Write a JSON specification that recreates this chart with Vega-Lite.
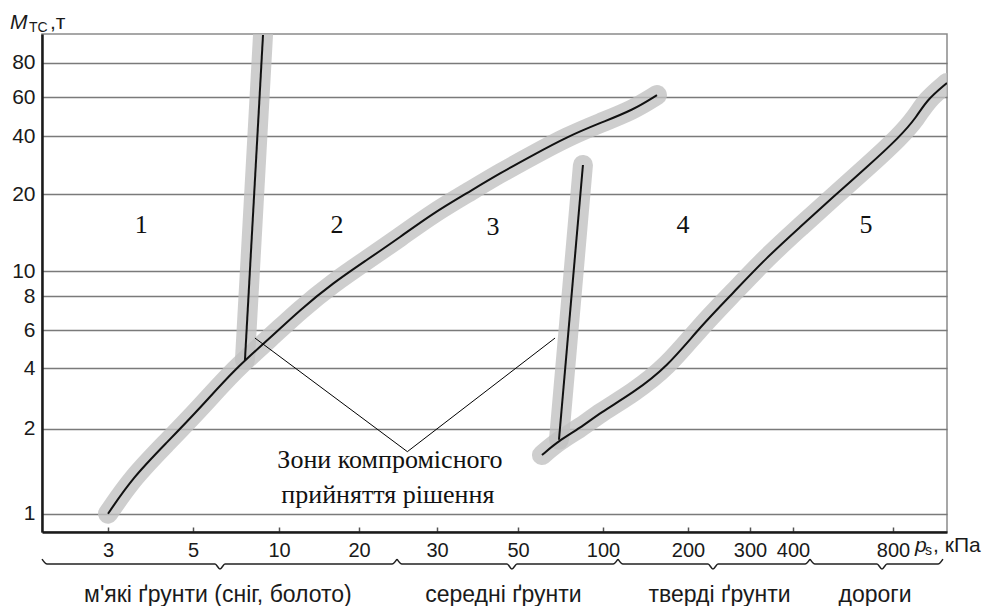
{
  "$schema": "https://vega.github.io/schema/vega-lite/v6.json",
  "width": 905,
  "height": 498,
  "autosize": {"type": "none"},
  "padding": {"left": 42, "top": 34, "right": 48, "bottom": 74},
  "background": "white",
  "config": {"view": {"stroke": "#8a8a8a", "strokeWidth": 1.5}, "font": "Liberation Sans"},
  "datasets": {
    "curves": [
      {"curve": "A", "ps": 3, "m": 1},
      {"curve": "A", "ps": 3.59, "m": 1.43},
      {"curve": "A", "ps": 4.39, "m": 1.84},
      {"curve": "A", "ps": 5.41, "m": 2.68},
      {"curve": "A", "ps": 7.44, "m": 3.97},
      {"curve": "A", "ps": 9.48, "m": 5.59},
      {"curve": "A", "ps": 12.6, "m": 7.18},
      {"curve": "A", "ps": 16.75, "m": 9.04},
      {"curve": "A", "ps": 21.0, "m": 11.43},
      {"curve": "A", "ps": 25.26, "m": 14.4},
      {"curve": "A", "ps": 29.5, "m": 17.5},
      {"curve": "A", "ps": 37.4, "m": 20.3},
      {"curve": "A", "ps": 45.6, "m": 27.2},
      {"curve": "A", "ps": 58.8, "m": 33.4},
      {"curve": "A", "ps": 78.8, "m": 39.7},
      {"curve": "A", "ps": 98.2, "m": 46.7},
      {"curve": "A", "ps": 135.3, "m": 53.4},
      {"curve": "A", "ps": 163.5, "m": 61.3},
      {"curve": "V1", "ps": 8.02, "m": 4.42},
      {"curve": "V1", "ps": 9.07, "m": 96},
      {"curve": "V2", "ps": 74.1, "m": 1.87},
      {"curve": "V2", "ps": 88.2, "m": 30.0},
      {"curve": "B", "ps": 64.1, "m": 1.69},
      {"curve": "B", "ps": 74.1, "m": 1.86},
      {"curve": "B", "ps": 86.5, "m": 2.02},
      {"curve": "B", "ps": 98.2, "m": 2.52},
      {"curve": "B", "ps": 135.3, "m": 3.18},
      {"curve": "B", "ps": 175.3, "m": 4.05},
      {"curve": "B", "ps": 219.4, "m": 6.19},
      {"curve": "B", "ps": 272.6, "m": 8.24},
      {"curve": "B", "ps": 339.5, "m": 11.8},
      {"curve": "B", "ps": 428, "m": 15.7},
      {"curve": "B", "ps": 560, "m": 19.6},
      {"curve": "B", "ps": 696, "m": 29.3},
      {"curve": "B", "ps": 806, "m": 39.7},
      {"curve": "B", "ps": 821, "m": 49.8},
      {"curve": "B", "ps": 830, "m": 58.6},
      {"curve": "B", "ps": 848, "m": 68.3}
    ],
    "leaders": [
      {"ps": 8.6, "m": 5.59},
      {"ps": 26.2, "m": 1.73},
      {"ps": 71.8, "m": 5.59}
    ],
    "braces": [
      {"brace": 1, "ps": 1.45, "m": 0.467},
      {"brace": 1, "ps": 1.57, "m": 0.409},
      {"brace": 1, "ps": 6.28, "m": 0.409},
      {"brace": 1, "ps": 6.57, "m": 0.35},
      {"brace": 1, "ps": 6.86, "m": 0.409},
      {"brace": 1, "ps": 24.23, "m": 0.409},
      {"brace": 1, "ps": 24.87, "m": 0.467},
      {"brace": 2, "ps": 24.87, "m": 0.467},
      {"brace": 2, "ps": 25.51, "m": 0.409},
      {"brace": 2, "ps": 47.3, "m": 0.409},
      {"brace": 2, "ps": 48.5, "m": 0.35},
      {"brace": 2, "ps": 49.75, "m": 0.409},
      {"brace": 2, "ps": 111.8, "m": 0.409},
      {"brace": 2, "ps": 117.6, "m": 0.467},
      {"brace": 3, "ps": 117.6, "m": 0.467},
      {"brace": 3, "ps": 123.5, "m": 0.409},
      {"brace": 3, "ps": 232.3, "m": 0.409},
      {"brace": 3, "ps": 240.3, "m": 0.35},
      {"brace": 3, "ps": 248.4, "m": 0.409},
      {"brace": 3, "ps": 448, "m": 0.409},
      {"brace": 3, "ps": 468, "m": 0.467},
      {"brace": 4, "ps": 468, "m": 0.467},
      {"brace": 4, "ps": 488, "m": 0.409},
      {"brace": 4, "ps": 736, "m": 0.409},
      {"brace": 4, "ps": 756, "m": 0.35},
      {"brace": 4, "ps": 776, "m": 0.409},
      {"brace": 4, "ps": 840, "m": 0.409},
      {"brace": 4, "ps": 844.4, "m": 0.467}
    ],
    "labels": [
      {"kind": "zone", "text": "1", "ps": 3.78, "m": 16},
      {"kind": "zone", "text": "2", "ps": 17.25, "m": 16},
      {"kind": "zone", "text": "3", "ps": 43.8, "m": 15.7},
      {"kind": "zone", "text": "4", "ps": 194, "m": 16},
      {"kind": "zone", "text": "5", "ps": 692, "m": 16},
      {"kind": "note", "text": "Зони компромісного", "ps": 23.97, "m": 1.63},
      {"kind": "note", "text": "прийняття рішення", "ps": 23.7, "m": 1.22},
      {"kind": "category", "text": "м'які ґрунти (сніг, болото)", "ps": 6.45, "m": 0.044},
      {"kind": "category", "text": "середні ґрунти", "ps": 46.4, "m": 0.044},
      {"kind": "category", "text": "тверді ґрунти", "ps": 250.8, "m": 0.044},
      {"kind": "category", "text": "дороги", "ps": 728, "m": 0.044},
      {"kind": "ital", "text": "M", "ps": 0.697, "m": 99.5},
      {"kind": "sub", "text": "ТС", "ps": 1.144, "m": 97.76},
      {"kind": "norm", "text": ",т", "ps": 1.638, "m": 99.5},
      {"kind": "ital", "text": "p", "ps": 819.6, "m": 0.55},
      {"kind": "sub", "text": "s", "ps": 828.4, "m": 0.509},
      {"kind": "norm", "text": ", кПа", "ps": 835.6, "m": 0.55}
    ]
  },
  "encoding": {
    "x": {
      "field": "ps",
      "type": "quantitative",
      "scale": {
        "type": "linear",
        "domain": [1.45, 3, 5, 10, 20, 30, 50, 100, 200, 300, 400, 800, 848],
        "range": [0, 66, 151, 237, 317, 395, 476, 561, 646, 708, 751, 851, 905],
        "zero": false,
        "nice": false
      },
      "axis": {
        "values": [3, 5, 10, 20, 30, 50, 100, 200, 300, 400, 800],
        "format": "d",
        "title": null,
        "grid": false,
        "domainColor": "#1a1a1a",
        "domainWidth": 2.5,
        "ticks": true,
        "tickSize": -5,
        "tickColor": "#555555",
        "tickWidth": 1.5,
        "labelPadding": 13,
        "labelFontSize": 20,
        "labelColor": "#1a1a1a",
        "labelFont": "Liberation Sans",
        "labelOverlap": false,
        "labelFlush": false
      }
    },
    "y": {
      "field": "m",
      "type": "quantitative",
      "scale": {
        "type": "linear",
        "domain": [0.785, 1, 2, 4, 6, 8, 10, 20, 40, 60, 80, 96.6],
        "range": [498, 479.7, 394.7, 334, 296.3, 262, 237, 160, 102, 63.3, 28.7, 0],
        "zero": false,
        "nice": false
      },
      "axis": {
        "values": [1, 2, 4, 6, 8, 10, 20, 40, 60, 80],
        "format": "d",
        "title": null,
        "grid": true,
        "gridColor": "#7a7a7a",
        "gridWidth": 1.6,
        "domainColor": "#1a1a1a",
        "domainWidth": 2.5,
        "ticks": false,
        "labelPadding": 7,
        "labelFontSize": 21,
        "labelColor": "#1a1a1a",
        "labelFont": "Liberation Sans",
        "labelOverlap": false,
        "labelFlush": false
      }
    }
  },
  "layer": [
    {
      "data": {"name": "curves"},
      "mark": {"type": "line", "color": "#c2c2c2", "opacity": 0.8, "strokeWidth": 20, "strokeCap": "round", "strokeJoin": "round", "interpolate": "basis", "clip": true},
      "encoding": {"detail": {"field": "curve"}}
    },
    {
      "data": {"name": "curves"},
      "mark": {"type": "line", "color": "#111111", "strokeWidth": 2, "interpolate": "basis", "clip": true},
      "encoding": {"detail": {"field": "curve"}}
    },
    {
      "data": {"name": "leaders"},
      "mark": {"type": "line", "color": "#000000", "strokeWidth": 1},
      "encoding": {}
    },
    {
      "data": {"name": "braces"},
      "mark": {"type": "line", "color": "#222222", "strokeWidth": 1.5, "interpolate": "monotone"},
      "encoding": {"detail": {"field": "brace"}}
    },
    {
      "data": {"name": "labels"},
      "transform": [{"filter": "datum.kind == 'zone' || datum.kind == 'note'"}],
      "mark": {"type": "text", "font": "Liberation Serif, DejaVu Serif, serif", "fontSize": 26, "align": "center", "baseline": "middle", "color": "#111111"},
      "encoding": {"text": {"field": "text"}}
    },
    {
      "data": {"name": "labels"},
      "transform": [{"filter": "datum.kind == 'category'"}],
      "mark": {"type": "text", "font": "Liberation Sans", "fontSize": 23, "align": "center", "baseline": "middle", "color": "#1a1a1a"},
      "encoding": {"text": {"field": "text"}}
    },
    {
      "data": {"name": "labels"},
      "transform": [{"filter": "datum.kind == 'ital'"}],
      "mark": {"type": "text", "font": "Liberation Sans", "fontStyle": "italic", "fontSize": 21, "align": "left", "baseline": "alphabetic", "color": "#1a1a1a"},
      "encoding": {"text": {"field": "text"}}
    },
    {
      "data": {"name": "labels"},
      "transform": [{"filter": "datum.kind == 'sub'"}],
      "mark": {"type": "text", "font": "Liberation Sans", "fontSize": 14, "align": "left", "baseline": "alphabetic", "color": "#1a1a1a"},
      "encoding": {"text": {"field": "text"}}
    },
    {
      "data": {"name": "labels"},
      "transform": [{"filter": "datum.kind == 'norm'"}],
      "mark": {"type": "text", "font": "Liberation Sans", "fontSize": 21, "align": "left", "baseline": "alphabetic", "color": "#1a1a1a"},
      "encoding": {"text": {"field": "text"}}
    }
  ]
}
